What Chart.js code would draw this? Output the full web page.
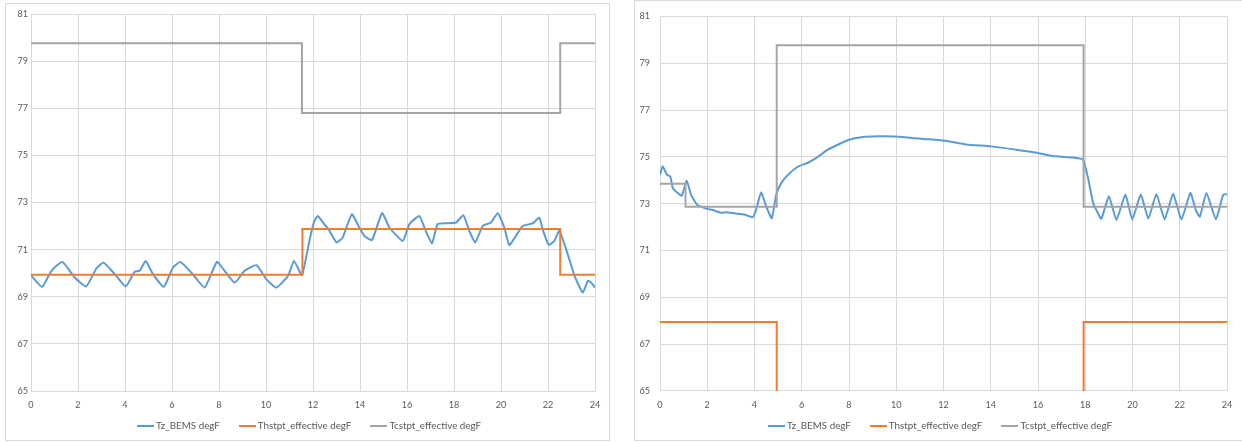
<!DOCTYPE html>
<html><head><meta charset="utf-8">
<script src="https://cdn.jsdelivr.net/npm/chart.js@4.4.1/dist/chart.umd.min.js"></script>
<style>
html,body{margin:0;padding:0;background:#fff;width:1242px;height:442px;overflow:hidden;position:relative;}
.box{position:absolute;box-sizing:border-box;border:1px solid #d9d9d9;background:#fff;}
#b1{left:5px;top:3px;width:605px;height:438px;}
#b2{left:634px;top:0px;width:612px;height:441px;}
canvas{display:block;}
.legend{position:absolute;top:418px;height:15px;display:flex;justify-content:center;align-items:center;gap:19px;
  font-family:Lato,'Liberation Sans',sans-serif;color:#595959;white-space:nowrap;line-height:15px;}
.legend .item{display:flex;align-items:center;}
.legend .sw{display:inline-block;width:17px;height:2px;margin-right:2px;}
#l1{left:5px;width:608px;}
#l2{left:634px;width:612px;}
</style></head><body>
<div class="box" id="b1"><canvas id="c1" width="603" height="436"></canvas></div>
<div class="box" id="b2"><canvas id="c2" width="610" height="439"></canvas></div>
<div class="legend" id="l1"></div>
<div class="legend" id="l2"></div>
<script>
// ---- data (hours, degF) ----
const seriesNames = ["Tz_BEMS degF", "Thstpt_effective degF", "Tcstpt_effective degF"];
const xTicks = [0, 2, 4, 6, 8, 10, 12, 14, 16, 18, 20, 22, 24];
const yTicks = [65, 67, 69, 71, 73, 75, 77, 79, 81];

// Left chart
const leftTzHours = [0,0.47,0.87,1.33,1.86,2.35,2.78,3.09,3.56,4.03,4.41,4.62,4.88,5.19,5.65,6.04,6.35,6.82,7.39,7.91,8.24,8.67,9.09,9.59,10.01,10.44,10.94,11.19,11.53,11.86,12.05,12.2,12.48,12.7,13.0,13.26,13.65,13.97,14.18,14.51,14.94,15.25,15.82,16.1,16.52,16.74,17.06,17.3,17.66,18.09,18.4,18.65,18.9,19.22,19.57,19.86,20.14,20.35,20.64,20.92,21.35,21.63,21.77,22.03,22.27,22.48,22.77,23.13,23.48,23.7,23.84,24.0];
const leftTzVals = [69.92,69.42,70.1,70.48,69.82,69.44,70.2,70.45,69.96,69.44,70.06,70.1,70.52,69.96,69.42,70.24,70.48,70.03,69.39,70.48,70.1,69.6,70.1,70.34,69.75,69.39,69.89,70.52,69.92,71.44,72.2,72.43,72.08,71.8,71.3,71.51,72.5,71.94,71.59,71.4,72.55,71.94,71.37,72.08,72.43,71.94,71.26,72.08,72.12,72.15,72.46,71.8,71.3,72.0,72.15,72.55,71.94,71.19,71.59,72.0,72.12,72.36,71.87,71.2,71.37,71.8,71.02,69.89,69.18,69.68,69.6,69.39];
const leftHeatHours = [0, 11.55, 22.52, 24];
const leftHeatVals = [69.93, 71.88, 69.93, 69.93];
const leftCoolHours = [0, 11.53, 22.52, 24];
const leftCoolVals = [79.76, 76.8, 79.76, 79.76];

// Right chart
const rightTzHours = [0,0.11,0.3,0.44,0.54,0.75,0.92,1.13,1.31,1.57,1.99,2.23,2.58,2.8,3.15,3.57,3.93,4.07,4.28,4.49,4.73,4.92,5.13,5.41,5.83,6.26,6.68,7.1,7.53,8.0,8.52,9.22,9.93,10.64,12,12.96,14.0,15.08,16.0,16.63,17.48,17.9,18.12,18.33,18.47,18.68,19.0,19.32,19.7,19.99,20.35,20.67,21.01,21.36,21.72,22.07,22.45,22.68,22.85,23.13,23.53,23.84,24.0];
const rightTzVals = [74.23,74.6,74.23,74.16,73.67,73.46,73.34,73.99,73.39,72.96,72.78,72.73,72.61,72.64,72.59,72.54,72.43,72.75,73.48,72.9,72.38,73.39,73.88,74.23,74.58,74.75,75.0,75.31,75.52,75.73,75.84,75.88,75.87,75.81,75.7,75.53,75.45,75.31,75.17,75.04,74.97,74.89,74.09,73.04,72.73,72.36,73.32,72.31,73.39,72.33,73.39,72.36,73.41,72.33,73.43,72.33,73.46,72.73,72.45,73.46,72.33,73.39,73.41];
const rightHeatHours = [0, 4.94, 17.93, 24];
const rightHeatVals = [67.95, 60, 67.95, 67.95];
const rightCoolHours = [0, 1.08, 4.94, 17.93, 24];
const rightCoolVals = [73.85, 72.87, 79.77, 72.87, 72.87];

const colors = ["#5b9bd5", "#ed7d31", "#a5a5a5"];
const FAMILY = "Lato, 'Liberation Sans', sans-serif";
const GRID = "#d9d9d9";

// size fonts so text widths match the reference (Calibri-like widths)
const mctx = document.createElement('canvas').getContext('2d');
mctx.font = "100px " + FAMILY;
const legendSize = Math.round(92 * 100 / mctx.measureText(seriesNames[2]).width * 10) / 10;
const tickSize = Math.round(10.6 * 100 / mctx.measureText("24").width * 10) / 10;
const TICKFONT = {family: FAMILY, size: tickSize};

function pts(xs, ys) { return xs.map((x, i) => ({x: x, y: ys[i]})); }

function buildLegend(id) {
  const el = document.getElementById(id);
  el.style.fontSize = legendSize + "px";
  seriesNames.forEach((n, i) => {
    const it = document.createElement('span'); it.className = 'item';
    const sw = document.createElement('span'); sw.className = 'sw'; sw.style.background = colors[i];
    const tx = document.createElement('span'); tx.textContent = n;
    it.appendChild(sw); it.appendChild(tx); el.appendChild(it);
  });
}

function makeChart(id, tzH, tzV, hH, hV, cH, cV, lay) {
  const ds = [
    {label: seriesNames[0], data: pts(tzH, tzV), borderColor: colors[0], backgroundColor: colors[0],
     borderWidth: 2, pointRadius: 0, tension: 0.15, order: 3},
    {label: seriesNames[1], data: pts(hH, hV), borderColor: colors[1], backgroundColor: colors[1],
     borderWidth: 2, pointRadius: 0, stepped: true, order: 2},
    {label: seriesNames[2], data: pts(cH, cV), borderColor: colors[2], backgroundColor: colors[2],
     borderWidth: 2, pointRadius: 0, stepped: true, order: 1}
  ];
  return new Chart(document.getElementById(id), {
    type: 'line',
    data: {datasets: ds},
    options: {
      responsive: false, animation: false, devicePixelRatio: 1,
      layout: {padding: {left: 0, right: lay.right, top: 10, bottom: lay.bottom}},
      plugins: {tooltip: {enabled: false}, legend: {display: false}},
      scales: {
        x: {
          type: 'linear', min: 0, max: 24,
          afterBuildTicks: (s) => { s.ticks = xTicks.map(v => ({value: v})); },
          afterFit: (s) => { s.height = 30; },
          grid: {color: GRID, drawTicks: false},
          border: {color: GRID},
          ticks: {font: TICKFONT, color: '#595959', padding: 8.5, maxRotation: 0}
        },
        y: {
          type: 'linear', min: 65, max: 81,
          afterBuildTicks: (s) => { s.ticks = yTicks.map(v => ({value: v})); },
          afterFit: (s) => { s.width = 25; },
          grid: {color: GRID, drawTicks: false},
          border: {color: GRID},
          ticks: {font: TICKFONT, color: '#595959', padding: lay.yPad}
        }
      }
    }
  });
}

buildLegend('l1');
buildLegend('l2');
makeChart('c1', leftTzHours, leftTzVals, leftHeatHours, leftHeatVals, leftCoolHours, leftCoolVals,
  {right: 14, bottom: 19, yPad: 3});
makeChart('c2', rightTzHours, rightTzVals, rightHeatHours, rightHeatVals, rightCoolHours, rightCoolVals,
  {right: 18, bottom: 19, yPad: 10});
</script>
</body></html>
